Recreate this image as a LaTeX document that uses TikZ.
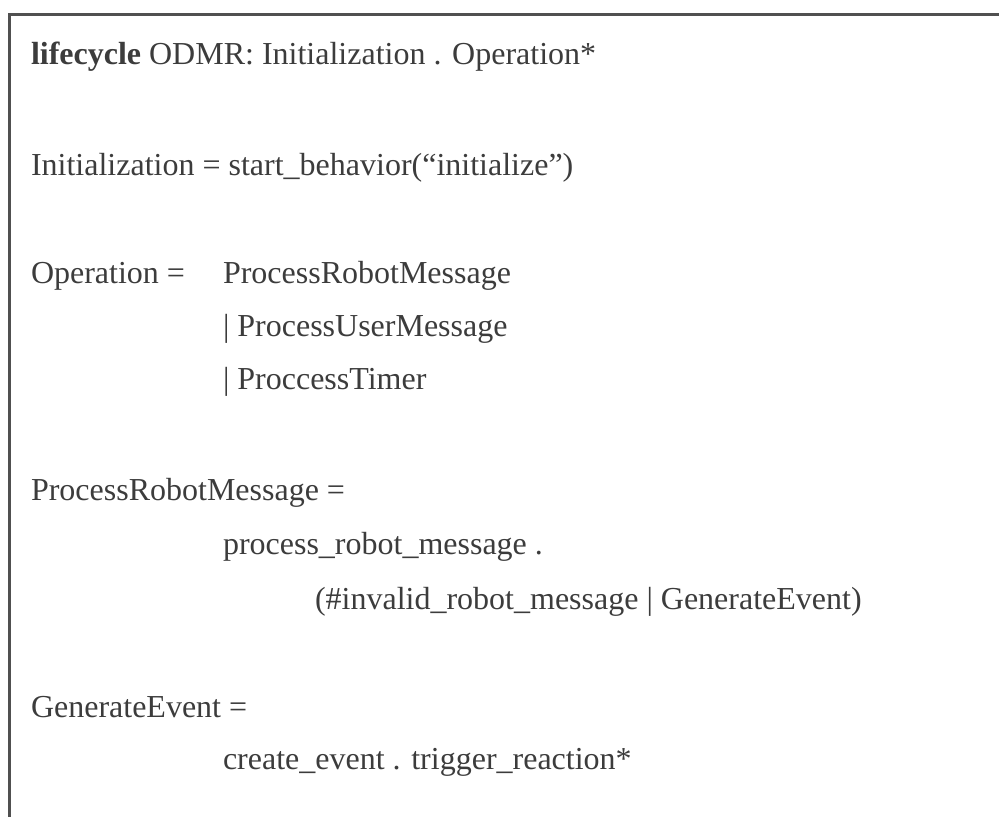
\documentclass[tikz,border=0pt]{standalone}
\usepackage{fontspec}
\setmainfont{Liberation Serif}
\definecolor{ink}{HTML}{3C3C3C}
\definecolor{rule}{HTML}{505050}
\begin{document}
\begin{tikzpicture}[x=1pt,y=1pt,
  txt/.style={anchor=base west, inner sep=0pt, outer sep=0pt, text=ink,
    font=\fontsize{32}{38}\selectfont},
  frame/.style={draw=rule, line width=3pt}]
\useasboundingbox (0,0) rectangle (999,817);
% frame (top and left edges)
\coordinate (tl) at (9,802);
\coordinate (tr) at (999,802);
\coordinate (bl) at (9,0);
\draw[frame] (tr) -- (tl) -- (bl);
% text lines (y = 817 - baseline)
\node[txt] (l1) at (31,752) {\textbf{lifecycle} ODMR: Initialization . Operation*};
\node[txt] (l2) at (31,641) {Initialization = start\_behavior(“initialize”)};
\node[txt] (l3a) at (31,533) {Operation =};
\node[txt] (l3b) at (223,533) {ProcessRobotMessage};
\node[txt] (l4) at (223,480) {| ProcessUserMessage};
\node[txt] (l5) at (223,427) {| ProccessTimer};
\node[txt] (l6) at (31,316) {ProcessRobotMessage =};
\node[txt] (l7) at (223,262) {process\_robot\_message .};
\node[txt] (l8) at (315,207) {(\#invalid\_robot\_message | GenerateEvent)};
\node[txt] (l9) at (31,99) {GenerateEvent =};
\node[txt] (l10) at (223,47) {create\_event . trigger\_reaction*};
\end{tikzpicture}
\end{document}
